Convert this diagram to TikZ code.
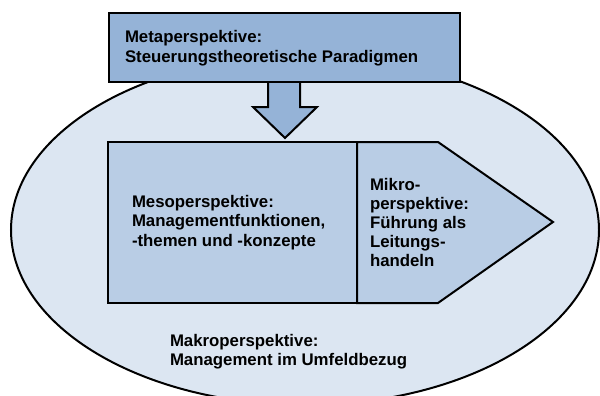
\documentclass[tikz,border=0pt]{standalone}
\usepackage{fontspec}
\setmainfont{Liberation Sans}
\usetikzlibrary{shapes.geometric}
\definecolor{ellfill}{HTML}{DCE6F2}
\definecolor{midfill}{HTML}{B9CDE5}
\definecolor{topfill}{HTML}{95B3D7}
\tikzset{
  outline/.style={draw=black, line width=2pt, line join=miter},
  lbl/.style={anchor=base west, inner sep=0pt, outer sep=0pt, align=left,
    font=\bfseries\fontsize{16.8}{19.5}\selectfont, text=black},
}
\begin{document}
\begin{tikzpicture}[x=1pt,y=-1pt]
\useasboundingbox (0,0) rectangle (600,396);
% Makro ellipse
\node[ellipse, outline, fill=ellfill, minimum width=588pt, minimum height=350pt, inner sep=0pt] (makro) at (305,230) {};
% arrow from meta to meso
\coordinate (aTL) at (268,78);
\coordinate (aTR) at (300,78);
\coordinate (tip) at (285,138);
\draw[outline, fill=topfill] (aTL) -- (268,107) -- (253,107) -- (tip) -- (317,107) -- (300,107) -- (aTR);
% Meta box
\node[rectangle, outline, fill=topfill, minimum width=351pt, minimum height=69pt, inner sep=0pt] (meta) at (284.5,47.5) {};
% Meso box
\node[rectangle, outline, fill=midfill, minimum width=249pt, minimum height=161pt, inner sep=0pt] (meso) at (232.5,222.5) {};
% Mikro pentagon
\coordinate (mTL) at (357,142);
\coordinate (mBL) at (357,303);
\draw[outline, fill=midfill] (mTL) -- (438,142) -- (553,222) -- (438,303) -- (mBL) -- cycle;
% texts (base anchor = last line baseline)
\node[lbl, font=\bfseries\fontsize{16.8}{20.4}\selectfont] (metatxt) at (125,62.7) {Metaperspektive:\\Steuerungstheoretische Paradigmen};
\node[lbl] (mesotxt) at (132,246.3) {Mesoperspektive:\\Managementfunktionen,\\-themen und -konzepte};
\node[lbl, font=\bfseries\fontsize{16.8}{19}\selectfont] (mikrotxt) at (370,266.7) {Mikro-\\perspektive:\\Führung als\\Leitungs-\\handeln};
\node[lbl, font=\bfseries\fontsize{16.8}{19}\selectfont] (makrotxt) at (170,365.7) {Makroperspektive:\\Management im Umfeldbezug};
\end{tikzpicture}
\end{document}
